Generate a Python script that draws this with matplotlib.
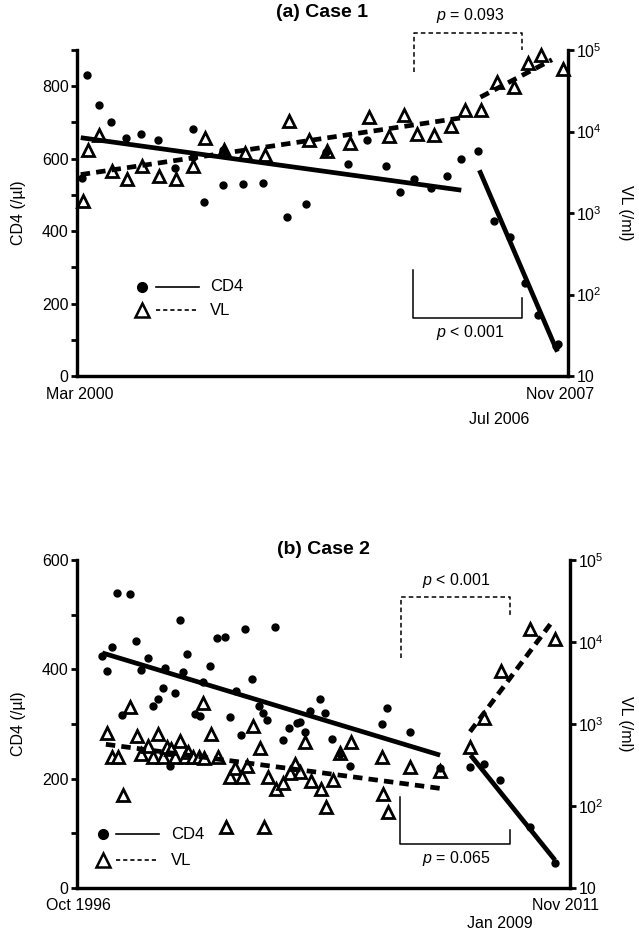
import numpy as np
import matplotlib
matplotlib.use("Agg")
import matplotlib.pyplot as plt

plt.rcParams["font.family"] = ["Liberation Sans", "DejaVu Sans"]
plt.rcParams["mathtext.fontset"] = "custom"
plt.rcParams["mathtext.rm"] = "Liberation Sans"
plt.rcParams["mathtext.it"] = "Liberation Sans:italic"
plt.rcParams["font.size"] = 11.5

# ---------------- Case 1 (x = months since Mar 2000) ----------------
case1_span = 92
case1_cd4_t = [0.9, 1.9, 4.1, 6.4, 9.2, 12.0, 15.1, 18.3, 21.7, 21.8, 23.8, 27.4, 27.4,
               31.1, 34.9, 39.4, 43.0, 46.7, 50.8, 54.3, 57.9, 60.5, 63.2, 66.3, 69.4,
               72.0, 75.2, 78.1, 81.2, 83.9, 86.3, 89.8, 90.1]
case1_cd4 = [547, 830, 748, 701, 657, 668, 651, 573, 681, 605, 480, 623, 527,
             530, 533, 439, 474, 619, 585, 651, 579, 509, 543, 518, 552,
             599, 621, 429, 383, 256, 168, 83, 88]
case1_vl_t = [1.1, 2.1, 4.2, 6.5, 9.4, 12.1, 15.3, 18.5, 21.8, 24.0, 27.6, 31.4, 35.3,
              39.8, 43.4, 46.9, 51.2, 54.7, 58.4, 61.3, 63.7, 66.9, 70.0, 72.7, 75.7,
              78.7, 81.8, 84.5, 87.0, 91.1]
case1_vl = [1390, 5980, 9120, 3310, 2620, 3810, 2880, 2620, 3810, 8320, 5980, 5450, 5200,
            13270, 7770, 5700, 7230, 15000, 8690, 16000, 9380, 9120, 11750, 18100, 18100,
            40900, 35600, 68700, 86900, 58100]
# fitted trend segments (start, end)
case1_cd4_fit1 = ([0.7, 72.0], [658, 513])
case1_cd4_fit2 = ([75.4, 90.0], [568, 67])
case1_vl_fit1 = ([0.7, 72.0], [2960, 14700])
case1_vl_fit2 = ([75.6, 89.0], [26400, 75900])

# ---------------- Case 2 (x = months since Oct 1996) ----------------
case2_span = 181
case2_cd4_t = [9.3, 10.9, 12.7, 14.8, 19.5, 16.6, 21.7, 23.6, 26.0, 27.8, 29.6, 31.5, 32.4,
               36.0, 34.3, 37.8, 38.8, 40.5, 43.3, 45.3, 46.1, 48.8, 51.5, 54.3, 56.2,
               58.2, 60.2, 61.7, 64.4, 66.9, 68.3, 69.9, 72.7, 75.5, 77.9, 80.6, 81.9,
               83.7, 85.5, 89.2, 91.0, 93.7, 96.5, 100.2, 111.8, 113.9, 122.2, 133.3,
               144.3, 149.4, 155.3, 166.3, 175.5]
case2_cd4 = [425, 397, 440, 540, 537, 316, 451, 399, 421, 333, 346, 366, 403,
             357, 223, 491, 395, 428, 318, 315, 376, 406, 457, 459, 313,
             360, 280, 474, 382, 333, 320, 307, 477, 270, 293, 301, 304,
             285, 324, 346, 321, 272, 246, 224, 300, 329, 286, 219,
             222, 227, 198, 112, 45]
case2_vl_t = [11.1, 12.7, 15.2, 16.8, 19.5, 21.9, 23.5, 26.0, 27.8, 29.6, 31.5, 32.9, 34.5,
              36.0, 37.8, 39.6, 40.9, 42.7, 44.9, 46.4, 46.6, 49.1, 51.9, 54.7, 56.2,
              58.0, 60.5, 62.3, 64.5, 67.2, 68.6, 70.2, 73.1, 75.7, 78.2, 80.0, 81.9,
              83.7, 85.8, 89.5, 91.3, 94.1, 96.5, 100.6, 111.8, 112.5, 114.3, 122.2,
              133.3, 144.3, 149.4, 155.5, 166.3, 175.5]
case2_vl = [784, 399, 399, 136, 1625, 714, 427, 544, 399, 748, 399, 528, 495,
            399, 621, 399, 459, 399, 399, 1786, 388, 748, 399, 56, 227,
            289, 227, 307, 946, 514, 56, 227, 160, 192, 255, 325, 262,
            598, 202, 161, 98, 207, 440, 598, 399, 139, 84, 296,
            269, 520, 1175, 4470, 14400, 10900]
case2_cd4_fit1 = ([9.3, 133.3], [430, 243])
case2_cd4_fit2 = ([144.5, 175.5], [243, 51])
case2_vl_fit1 = ([10.6, 133.3], [565, 164])
case2_vl_fit2 = ([144.3, 174.9], [806, 18500])

W, H = 639, 935
fig = plt.figure(figsize=(W / 100, H / 100), dpi=100)


def px_axes(x0, y0, x1, y1):
    return fig.add_axes([x0 / W, 1 - y1 / H, (x1 - x0) / W, (y1 - y0) / H])


def draw_case(ax, span, cd4_max, cd4_step, cd4_t, cd4, vl_t, vl, fits, title,
              title_pad, date_labels, date_offsets, brackets, legend_pos):
    ax2 = ax.twinx()
    ax.set_zorder(ax2.get_zorder() + 1)
    ax.patch.set_visible(False)

    ax2.plot(vl_t, vl, linestyle="none", marker="^", ms=8.5, mfc="white",
             mec="black", mew=2.0, zorder=2, clip_on=False)
    ax.plot(cd4_t, cd4, linestyle="none", marker="o", ms=5, color="black",
            zorder=3, clip_on=False)
    for xs, ys in fits[:2]:
        ax.plot(xs, ys, color="black", lw=3.4, solid_capstyle="butt", zorder=4)
    for xs, ys in fits[2:]:
        ax2.plot(xs, ys, color="black", lw=3.4, ls=(0, (2.0, 1.3)), zorder=4)

    ax.set_xlim(0, span)
    ax.set_ylim(0, cd4_max)
    ax2.set_yscale("log")
    ax2.set_ylim(10, 1e5)

    ax.set_yticks(np.arange(0, cd4_max + 1, cd4_step / 2))
    ax.set_yticklabels([str(int(v)) if v % cd4_step == 0 else ""
                        for v in np.arange(0, cd4_max + 1, cd4_step / 2)])
    ax.set_xticks([])
    ax2.set_yticks([10, 100, 1000, 1e4, 1e5])
    ax2.set_yticklabels(["10", "$10^2$", "$10^3$", "$10^4$", "$10^5$"])
    ax2.minorticks_off()
    for a in (ax, ax2):
        a.tick_params(axis="y", direction="out", length=4, width=2, pad=2,
                      labelsize=11.5)
        for s in a.spines.values():
            s.set_linewidth(2.3)
        a.spines["top"].set_visible(False)

    ax.set_title(title, fontsize=14, fontweight="bold", pad=title_pad)

    (l0, l1, l2) = date_labels
    off1, off2 = date_offsets
    kw = dict(xycoords=("data", "axes fraction"), textcoords="offset points",
              ha="center", va="top", fontsize=11.5)
    ax.annotate(l0, xy=(0.5, 0), xytext=(0, -off1), **kw)
    ax.annotate(l1, xy=(span - 1.5, 0), xytext=(0, -off1), **kw)
    ax.annotate(l2[0], xy=(l2[1], 0), xytext=(0, -off2), **kw)

    # significance brackets
    dx0, dx1, dy_l, dy_top, dy_r, dtxt = brackets["dashed"]
    ax.plot([dx0, dx0, dx1, dx1], [dy_l, dy_top, dy_top, dy_r], color="black",
            lw=1.1, ls=(0, (3, 2)), clip_on=False)
    ax.text((dx0 + dx1) / 2 + 0.5, dtxt[0], dtxt[1], ha="center", va="center",
            fontsize=11.5)
    sx0, sx1, sy_l, sy_bot, sy_r, stxt = brackets["solid"]
    ax.plot([sx0, sx0, sx1, sx1], [sy_l, sy_bot, sy_bot, sy_r], color="black",
            lw=1.1, clip_on=False)
    ax.text((sx0 + sx1) / 2 + 0.5, stxt[0], stxt[1], ha="center", va="center",
            fontsize=11.5)

    # legend keys
    mx, lx0, lx1, tx, y1, y2 = legend_pos
    ta = ax.transAxes
    ax.plot([mx], [y1], marker="o", ms=7, color="black", transform=ta)
    ax.plot([lx0, lx1], [y1, y1], color="black", lw=1.2, transform=ta)
    ax.text(tx, y1, "CD4", transform=ta, va="center", fontsize=12)
    ax.plot([mx], [y2], marker="^", ms=10, mfc="white", mec="black", mew=1.8,
            transform=ta)
    ax.plot([lx0, lx1], [y2, y2], color="black", lw=1.2, ls=(0, (2.5, 1.8)),
            transform=ta)
    ax.text(tx, y2, "VL", transform=ta, va="center", fontsize=12)
    return ax2


axa = px_axes(77, 50, 568, 376)
draw_case(axa, case1_span, 900, 200, case1_cd4_t, case1_cd4, case1_vl_t, case1_vl,
          [case1_cd4_fit1, case1_cd4_fit2, case1_vl_fit1, case1_vl_fit2],
          "(a) Case 1", 24, ("Mar 2000", "Nov 2007", ("Jul 2006", 79.2)), (8, 26),
          {"dashed": (63.1, 83.3, 839, 946, 899, (996, "$p$ = 0.093")),
           "solid": (63.0, 83.3, 292, 159, 215, (119, "$p$ < 0.001"))},
          (0.132, 0.161, 0.249, 0.271, 0.274, 0.202))

axb = px_axes(77, 560, 570, 888)
draw_case(axb, case2_span, 600, 200, case2_cd4_t, case2_cd4, case2_vl_t, case2_vl,
          [case2_cd4_fit1, case2_cd4_fit2, case2_vl_fit1, case2_vl_fit2],
          "(b) Case 2", 4, ("Oct 1996", "Nov 2011", ("Jan 2009", 155.3)), (7.5, 20),
          {"dashed": (118.9, 159.0, 420, 533, 499, (562, "$p$ < 0.001")),
           "solid": (118.6, 159.0, 167, 80.5, 107, (54, "$p$ = 0.065"))},
          (0.052, 0.079, 0.167, 0.191, 0.164, 0.085))

fig.text(18 / W, 1 - 213 / H, "CD4 (/\u00b5l)", rotation=90, ha="center",
         va="center", fontsize=11.5)
fig.text(625 / W, 1 - 213 / H, "VL (/ml)", rotation=270, ha="center",
         va="center", fontsize=11.5)
fig.text(18 / W, 1 - 724 / H, "CD4 (/\u00b5l)", rotation=90, ha="center",
         va="center", fontsize=11.5)
fig.text(625 / W, 1 - 724 / H, "VL (/ml)", rotation=270, ha="center",
         va="center", fontsize=11.5)

fig.savefig("out.png", dpi=100)
